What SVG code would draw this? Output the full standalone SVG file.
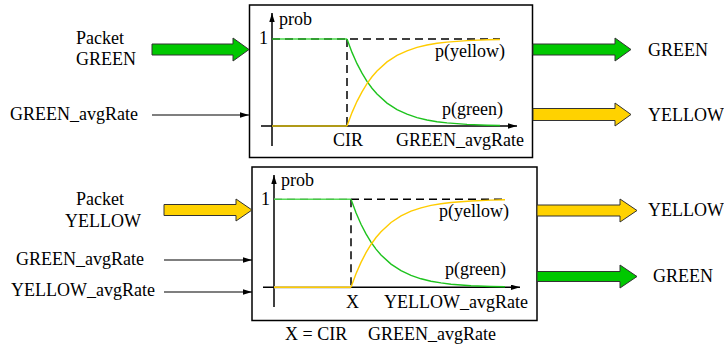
<svg xmlns="http://www.w3.org/2000/svg" width="724" height="350" viewBox="0 0 724 350">
<defs>
<style>
text{font-family:'Liberation Serif','Times New Roman',Times,serif;font-size:18px;fill:#000}
.box{fill:#fff;stroke:#000;stroke-width:1.5}
.axis{stroke:#000;stroke-width:1.5;fill:none}
.dash{stroke:#000;stroke-width:1.5;stroke-dasharray:8 5;fill:none}
.g{stroke:#1ec31e;stroke-width:1.4;fill:none}
.y{stroke:#ffcc00;stroke-width:1.4;fill:none}
.fatg{fill:#00c800;stroke:#333;stroke-width:1}
.faty{fill:#ffd200;stroke:#333;stroke-width:1}
.in{stroke:#000;stroke-width:1.2;fill:none}
</style>
<marker id="ah" viewBox="0 0 10 6" refX="10" refY="3" markerWidth="9" markerHeight="5.4" markerUnits="userSpaceOnUse" orient="auto">
<path d="M0,0 L10,3 L0,6 z" fill="#000"/>
</marker>
</defs>
<rect width="724" height="350" fill="#fff"/>

<g font-family="Liberation Serif, serif" font-size="18">
<g id="box-green">
<rect class="box" x="249.5" y="5" width="283" height="152.5"/>
<line class="axis" x1="272" y1="146" x2="272" y2="13" marker-end="url(#ah)"/>
<line class="axis" x1="261" y1="126" x2="517" y2="126" marker-end="url(#ah)"/>
<line class="dash" x1="272" y1="39" x2="500" y2="39"/>
<line class="dash" x1="347" y1="39" x2="347" y2="126"/>
<line x1="272" y1="39" x2="347" y2="39" stroke="#2ed22e" stroke-width="1.8" opacity="0.65"/>
<line x1="272" y1="126" x2="347" y2="126" stroke="#b09a18" stroke-width="2"/>
<polyline class="g" points="347,39 352,52.4 357,63.7 362,73.2 367,81.3 372,88.2 377,94 387,103.1 397,109.6 407,114.2 417,117.6 427,120 437,121.7 447,122.9 467,124.4 487,125.2 500,125.5"/>
<polyline class="y" points="347,126 352,112.6 357,101.3 362,91.8 367,83.7 372,76.8 377,71 387,61.9 397,55.4 407,50.8 417,47.4 427,45 437,43.3 447,42.1 467,40.6 487,39.8 500,39.5"/>
<text x="279" y="25">prob</text>
<text x="268" y="44" text-anchor="end">1</text>
<text x="435" y="57">p(yellow)</text>
<text x="442" y="115">p(green)</text>
<text x="348" y="146" text-anchor="middle">CIR</text>
<text x="396" y="146">GREEN_avgRate</text>
</g>

<g id="box-yellow">
<rect class="box" x="252" y="167" width="285" height="153.5"/>
<line class="axis" x1="274" y1="307" x2="274" y2="175" marker-end="url(#ah)"/>
<line class="axis" x1="263" y1="287.3" x2="520" y2="287.3" marker-end="url(#ah)"/>
<line x1="274" y1="287.3" x2="351" y2="287.3" stroke="#bbb" stroke-width="2.6"/>
<line x1="274" y1="199.3" x2="351" y2="199.3" stroke="#aaa" stroke-width="1.5" stroke-dasharray="8 5"/>
<line class="dash" x1="351" y1="199.3" x2="505" y2="199.3"/>
<line class="dash" x1="351" y1="199.3" x2="351" y2="287.3"/>
<line x1="274" y1="199.3" x2="351" y2="199.3" stroke="#2ed22e" stroke-width="1.6" opacity="0.8"/>
<line x1="274" y1="287.3" x2="351" y2="287.3" stroke="#ffcc00" stroke-width="1.4"/>
<polyline class="g" points="351,199.3 356,212.8 361,224.2 366,233.9 371,242.1 376,249.1 381,254.9 391,264.1 401,270.7 411,275.4 421,278.8 431,281.2 441,282.9 451,284.2 471,285.7 491,286.5 505,286.8"/>
<polyline class="y" points="351,287.3 356,273.8 361,262.4 366,252.7 371,244.5 376,237.5 381,231.7 391,222.5 401,215.9 411,211.2 421,207.8 431,205.4 441,203.7 451,202.5 471,201 491,200.1 505,199.8"/>
<text x="281" y="186">prob</text>
<text x="270" y="205" text-anchor="end">1</text>
<text x="439" y="217">p(yellow)</text>
<text x="445" y="275">p(green)</text>
<text x="352.5" y="308" text-anchor="middle">X</text>
<text x="384" y="308">YELLOW_avgRate</text>
</g>

<g id="caption">
<text x="285" y="340">X = CIR</text>
<text x="368" y="340">GREEN_avgRate</text>
</g>

<g id="inputs">
<text x="76" y="44">Packet</text>
<text x="76" y="65">GREEN</text>
<text x="10" y="120">GREEN_avgRate</text>
<text x="76" y="205">Packet</text>
<text x="65" y="227">YELLOW</text>
<text x="16" y="265">GREEN_avgRate</text>
<text x="11" y="296">YELLOW_avgRate</text>
</g>

<g id="outputs">
<text x="648" y="56">GREEN</text>
<text x="648" y="121">YELLOW</text>
<text x="648" y="216">YELLOW</text>
<text x="653" y="282">GREEN</text>
</g>
</g>

<g id="connectors">
<polygon class="fatg" points="152,44 233,44 233,38 249,49.5 233,61 233,55 152,55"/>
<line class="in" x1="152" y1="115" x2="249" y2="115" marker-end="url(#ah)"/>
<polygon class="fatg" points="533,44 615,44 615,38 631,49.5 615,61 615,55 533,55"/>
<polygon class="faty" points="533,108.5 615,108.5 615,103 631,114.5 615,126 615,120.5 533,120.5"/>
<polygon class="faty" points="164,204.5 236,204.5 236,199 252,210 236,221 236,215.5 164,215.5"/>
<line class="in" x1="164" y1="260" x2="252" y2="260" marker-end="url(#ah)"/>
<line class="in" x1="164" y1="292" x2="252" y2="292" marker-end="url(#ah)"/>
<polygon class="faty" points="537,205 620,205 620,199 637,210.5 620,222 620,216 537,216"/>
<polygon class="fatg" points="537,271.5 620,271.5 620,265 637,276.5 620,288 620,281.5 537,281.5"/>
</g>
</svg>
